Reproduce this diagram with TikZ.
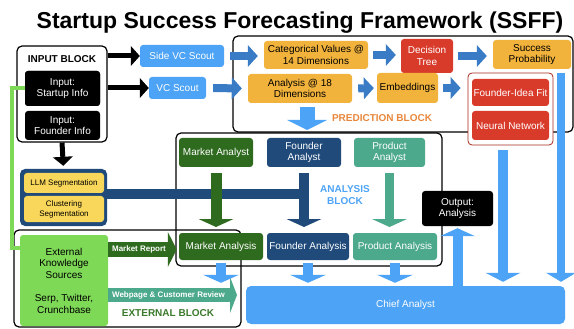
\documentclass[tikz,border=0pt]{standalone}
\usepackage{fontspec}
\setmainfont{Liberation Sans}
\usetikzlibrary{arrows.meta}
\definecolor{cLBlue}{HTML}{4DA3F5}
\definecolor{cPBlue}{HTML}{3A7BC6}
\definecolor{cOrange}{HTML}{F2B33D}
\definecolor{cRed}{HTML}{D93B2B}
\definecolor{cDRed}{HTML}{A52A1F}
\definecolor{cDGreen}{HTML}{2F6B1F}
\definecolor{cDBlue}{HTML}{1F4A7A}
\definecolor{cTeal}{HTML}{4CA98B}
\definecolor{cYellow}{HTML}{F9D75A}
\definecolor{cLGreen}{HTML}{7ED957}
\definecolor{cPOrange}{HTML}{E8863B}
\definecolor{cEGreen}{HTML}{3A7A2A}
\begin{document}
\begin{tikzpicture}[x=1pt,y=-1pt,
  blockframe/.style={draw=black, line width=1.2pt, rounded corners=5pt},
  bx/.style={rounded corners=3pt, align=center, inner sep=1pt, font=\fontsize{10}{11.5}\selectfont, text=white},
  blackbox/.style={bx, fill=black},
  lbbox/.style={bx, fill=cLBlue},
  orbox/.style={bx, fill=cOrange, text=black},
  redbox/.style={bx, fill=cRed},
  greenbox/.style={bx, fill=cDGreen},
  dbluebox/.style={bx, fill=cDBlue},
  tealbox/.style={bx, fill=cTeal},
  yelbox/.style={bx, fill=cYellow, text=black, font=\fontsize{8}{10}\selectfont},
  blocklabel/.style={font=\fontsize{10}{12}\bfseries\selectfont, align=center, inner sep=0pt},
  blkarrow/.style={draw=black, line width=5pt, -{Triangle[width=20pt,length=9pt,line width=0pt]}},
  parrow/.style={draw=cPBlue, line width=8pt, -{Triangle[width=22pt,length=10pt,line width=0pt]}},
  larrow/.style={draw=cLBlue, line width=10pt, -{Triangle[width=36pt,length=8pt,line width=0pt]}},
  anarrow/.style={line width=10pt, -{Triangle[width=35pt,length=8pt,line width=0pt]}},
  arrowtext/.style={font=\fontsize{8}{9}\bfseries\selectfont, text=white, inner sep=0pt}
]
\useasboundingbox (0,0) rectangle (574,329);

% title
\node[font=\fontsize{23}{26}\bfseries\selectfont, anchor=base] (title) at (300,29) {Startup Success Forecasting Framework (SSFF)};

% frames
\node[blockframe, minimum width=340pt, minimum height=96pt] (predblk) at (403,84) {};
\node[blockframe, minimum width=266pt, minimum height=133pt] (anablk) at (309,199.5) {};
\node[blockframe, minimum width=227pt, minimum height=97pt] (extblk) at (127.5,278.5) {};
\node[blockframe, fill=white, minimum width=90pt, minimum height=96pt] (inputblk) at (62,94) {};

% block labels
\node[blocklabel] (inlabel) at (62,59) {INPUT BLOCK};
\node[blocklabel, text=cPOrange] (predlabel) at (382,118) {PREDICTION BLOCK};
\node[blocklabel, text=cLBlue] (analabel) at (345,195) {ANALYSIS\\BLOCK};
\node[blocklabel, text=cEGreen] (extlabel) at (168,313) {EXTERNAL BLOCK};

% coordinates for free ends
\coordinate (pdown) at (307,130);
\coordinate (nnx) at (503,0);
\coordinate (spx) at (561,0);
\coordinate (webend) at (237,295);
\coordinate (mry) at (0,249.5);
\coordinate (wby) at (0,295);
\coordinate (segy) at (0,194);

% green line
\node[blackbox, minimum width=75pt, minimum height=35pt] (startup) at (62.5,88.5) {Input:\\Startup Info};
\draw[cLGreen, line width=4pt] (startup.west) -- (11.5,88.5) |- (20,248);
\node[blackbox, minimum width=75pt, minimum height=35pt] (startup) at (62.5,88.5) {Input:\\Startup Info};
\node[blackbox, minimum width=75pt, minimum height=29pt] (founderinfo) at (62.5,125.5) {Input:\\Founder Info};

% input side
\node[lbbox, minimum width=84pt, minimum height=22pt] (sidevc) at (182,56) {Side VC Scout};
\node[lbbox, minimum width=57pt, minimum height=22pt] (vcscout) at (177.5,88) {VC Scout};

% prediction block
\node[orbox, minimum width=104pt, minimum height=28pt] (cat) at (316,55) {Categorical Values @\\14 Dimensions};
\node[redbox, minimum width=52pt, minimum height=34pt] (dtree) at (427,56) {Decision\\Tree};
\node[orbox, minimum width=78pt, minimum height=29pt] (success) at (532,54.5) {Success\\Probability};
\node[orbox, minimum width=104pt, minimum height=29pt] (ana18) at (300,88.5) {Analysis @ 18\\Dimensions};
\node[orbox, minimum width=61pt, minimum height=30pt] (emb) at (407.5,88) {Embeddings};
\node[draw=cDRed, line width=0.8pt, fill=white, rounded corners=4pt, minimum width=85pt, minimum height=72pt] (fifgrp) at (510.5,109) {};
\node[redbox, minimum width=77pt, minimum height=27pt] (fif) at (510.5,92.5) {Founder-Idea Fit};
\node[redbox, minimum width=77pt, minimum height=29pt] (nn) at (510.5,125.5) {Neural Network};

% segmentation
\node[fill=cDBlue, rounded corners=5pt, minimum width=87pt, minimum height=57pt] (seg) at (63.5,197.5) {};
\node[yelbox, minimum width=80pt, minimum height=20pt] (llm) at (64,183) {LLM Segmentation};
\node[yelbox, minimum width=80pt, minimum height=26pt] (clust) at (64,209) {Clustering\\Segmentation};

% analysis block
\node[greenbox, minimum width=74pt, minimum height=29pt] (mktanalyst) at (216,152.5) {Market Analyst};
\node[dbluebox, minimum width=74pt, minimum height=29pt] (fndanalyst) at (304,152.5) {Founder\\Analyst};
\node[tealbox, minimum width=71pt, minimum height=29pt] (prdanalyst) at (389.5,152.5) {Product\\Analyst};

% external
\node[bx, fill=cLGreen, text=black, minimum width=88pt, minimum height=91pt] (eks) at (64,280.5) {External\\Knowledge\\Sources\\[12pt]Serp, Twitter,\\Crunchbase};

\node[blackbox, minimum width=71pt, minimum height=35pt] (output) at (457.5,208.5) {Output:\\Analysis};
\node[lbbox, rounded corners=5pt, minimum width=319pt, minimum height=38pt] (chief) at (405.5,305) {Chief Analyst};

% arrows: input
\draw[blkarrow] (inputblk.east |- sidevc) -- (sidevc.west);
\draw[blkarrow] (inputblk.east |- vcscout) -- (vcscout.west);
\draw[blkarrow, shorten >=3pt] (inputblk.south) -- (seg.north);

% arrows: prediction
\draw[parrow, shorten <=6pt, shorten >=6pt] (sidevc.east) -- (sidevc.east -| cat.west);
\draw[parrow, shorten <=7pt, shorten >=6pt] (vcscout.east) -- (ana18.west);
\draw[parrow, shorten <=5pt, shorten >=5pt] (cat.east) -- (cat.east -| dtree.west);
\draw[parrow, shorten <=5pt, shorten >=6pt] (dtree.east) -- (dtree.east -| success.west);
\draw[parrow, shorten <=6pt, shorten >=3pt] (ana18.east) -- (emb.west);
\draw[parrow, shorten <=5pt, shorten >=7pt] (emb.east) -- (emb.east -| fifgrp.west);
\draw[draw=cLBlue, line width=15pt, -{Triangle[width=40pt,length=10pt,line width=0pt]}, shorten <=4pt] (ana18.south -| pdown) -- (pdown);

% long arrows to chief
\draw[larrow, -{Triangle[width=35pt,length=9pt,line width=0pt]}, shorten <=5pt, shorten >=4pt] (fifgrp.south -| nnx) -- (chief.north -| nnx);
\draw[larrow, line width=8pt, -{Triangle[width=30pt,length=9pt,line width=0pt]}, shorten <=4pt, shorten >=4pt] (success.south -| spx) -- (chief.north -| spx);

% segmentation bar into founder arrow
\draw[cDBlue, line width=9pt] (seg.east |- segy) -- (fndanalyst.south |- segy);

% analyst arrows
\draw[anarrow, draw=cDGreen, line width=11pt, shorten <=6pt, shorten >=6pt] (mktanalyst.south) -- (mktanalyst.south |- 0,233);
\draw[anarrow, draw=cDBlue, shorten <=6pt, shorten >=6pt] (fndanalyst.south) -- (fndanalyst.south |- 0,233);
\draw[anarrow, draw=cTeal, line width=9pt, shorten <=6pt, shorten >=6pt] (prdanalyst.south) -- (prdanalyst.south |- 0,233);

\node[greenbox, minimum width=84pt, minimum height=27pt] (mktana) at (221,246.5) {Market Analysis};
\node[dbluebox, minimum width=82pt, minimum height=27pt] (fndana) at (308,246.5) {Founder Analysis};
\node[tealbox, minimum width=84pt, minimum height=27pt] (prdana) at (395,246.5) {Product Analysis};

% external arrows
\draw[draw=cDGreen, line width=15pt, -{Triangle[width=35pt,length=9pt,line width=0pt]}, shorten >=2pt] (eks.east |- mry) -- (mktana.west |- mry);
\node[arrowtext] (mrtext) at (139,249.5) {Market Report};
\draw[draw=cTeal, line width=14pt, -{Triangle[width=36pt,length=7pt,line width=0pt]}] (eks.east |- wby) -- (webend);
\node[arrowtext] (wbtext) at (168.5,295) {Webpage \& Customer Review};

% analysis to chief
\draw[larrow, shorten <=3pt, shorten >=3pt] (mktana.south) -- (mktana.south |- chief.north);
\draw[larrow, shorten <=3pt, shorten >=3pt] (fndana.south) -- (fndana.south |- chief.north);
\draw[larrow, shorten <=3pt, shorten >=3pt] (prdana.south) -- (prdana.south |- chief.north);

% chief to output
\draw[larrow, -{Triangle[width=35pt,length=8pt,line width=0pt]}, shorten >=2pt] (output.south |- chief.north) -- (output.south);
\end{tikzpicture}
\end{document}
